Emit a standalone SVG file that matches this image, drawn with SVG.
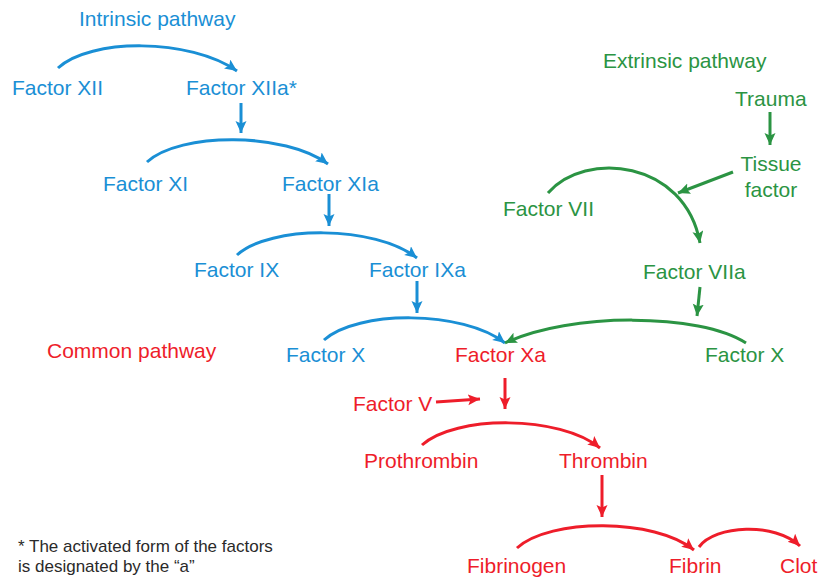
<svg xmlns="http://www.w3.org/2000/svg" width="819" height="578" viewBox="0 0 819 578">
<defs>
<style>
text{font-family:"Liberation Sans",Arial,sans-serif;font-size:21px}
.b{fill:#1a8fd5}.g{fill:#2b9443}.r{fill:#ee1d2a}
.fn{fill:#2a2a2a;font-size:17px}
.lb,.lg,.lr{fill:none;stroke-width:3}
.lb{stroke:#1a8fd5;marker-end:url(#ab)}
.lg{stroke:#2b9443;marker-end:url(#ag)}
.lr{stroke:#ee1d2a;marker-end:url(#ar)}
</style>
<marker id="ab" markerUnits="userSpaceOnUse" markerWidth="14" markerHeight="12" refX="12" refY="5.5" orient="auto" viewBox="0 0 14 12"><path d="M0,0 L12,5.5 L0,11 L2.5,5.5 z" fill="#1a8fd5"/></marker>
<marker id="ag" markerUnits="userSpaceOnUse" markerWidth="14" markerHeight="12" refX="12" refY="5.5" orient="auto" viewBox="0 0 14 12"><path d="M0,0 L12,5.5 L0,11 L2.5,5.5 z" fill="#2b9443"/></marker>
<marker id="ar" markerUnits="userSpaceOnUse" markerWidth="14" markerHeight="12" refX="12" refY="5.5" orient="auto" viewBox="0 0 14 12"><path d="M0,0 L12,5.5 L0,11 L2.5,5.5 z" fill="#ee1d2a"/></marker>
</defs>
<g id="connectors">
<path class="lb" d="M58,68 C90,38 190,38 237,71"/>
<path class="lb" d="M241,103 L241,133"/>
<path class="lb" d="M147,162 C180,132 285,132 328,164"/>
<path class="lb" d="M329,194 L329,226"/>
<path class="lb" d="M237,255 C270,225 375,225 417,258"/>
<path class="lb" d="M417,281 L417,313"/>
<path class="lb" d="M324,340 C357,310 463,310 505,343"/>
<path class="lg" d="M770,112 L770,145"/>
<path class="lg" d="M733,172 L678,193"/>
<path class="lg" d="M548,193 C585,150 685,160 700,243"/>
<path class="lg" d="M700,287 L697,316"/>
<path class="lg" d="M746,343 C700,313 570,312 505,343"/>
<path class="lr" d="M436,402 L480,399"/>
<path class="lr" d="M505,378 L505,409"/>
<path class="lr" d="M422,445 C455,415 560,415 600,448"/>
<path class="lr" d="M602,475 L602,517"/>
<path class="lr" d="M517,548 C550,518 655,518 694,550"/>
<path class="lr" d="M699,547 C715,525 775,522 800,546"/>
</g>
<g id="intrinsic-label"><text class="b" x="79" y="26">Intrinsic pathway</text></g>
<g id="f12"><text class="b" x="12" y="95">Factor XII</text></g>
<g id="f12a"><text class="b" x="186" y="95">Factor XIIa*</text></g>
<g id="f11"><text class="b" x="103" y="191">Factor XI</text></g>
<g id="f11a"><text class="b" x="282" y="191">Factor XIa</text></g>
<g id="f9"><text class="b" x="194" y="277">Factor IX</text></g>
<g id="f9a"><text class="b" x="369" y="277">Factor IXa</text></g>
<g id="f10-blue"><text class="b" x="286" y="362">Factor X</text></g>
<g id="f10a"><text class="r" x="455" y="362">Factor Xa</text></g>
<g id="common-label"><text class="r" x="47" y="358">Common pathway</text></g>
<g id="extrinsic-label"><text class="g" x="603" y="68">Extrinsic pathway</text></g>
<g id="trauma"><text class="g" x="735" y="106">Trauma</text></g>
<g id="tissue-factor"><text class="g" x="771" y="171" text-anchor="middle">Tissue</text><text class="g" x="771" y="197" text-anchor="middle">factor</text></g>
<g id="f7"><text class="g" x="503" y="216">Factor VII</text></g>
<g id="f7a"><text class="g" x="643" y="279">Factor VIIa</text></g>
<g id="f10-green"><text class="g" x="705" y="362">Factor X</text></g>
<g id="f5"><text class="r" x="353" y="411">Factor V</text></g>
<g id="prothrombin"><text class="r" x="364" y="468">Prothrombin</text></g>
<g id="thrombin"><text class="r" x="559" y="468">Thrombin</text></g>
<g id="fibrinogen"><text class="r" x="467" y="573">Fibrinogen</text></g>
<g id="fibrin"><text class="r" x="669" y="573">Fibrin</text></g>
<g id="clot"><text class="r" x="780" y="573">Clot</text></g>
<g id="footnote"><text class="fn" x="18" y="552">* The activated form of the factors</text><text class="fn" x="18" y="572">is designated by the “a”</text></g>
</svg>
